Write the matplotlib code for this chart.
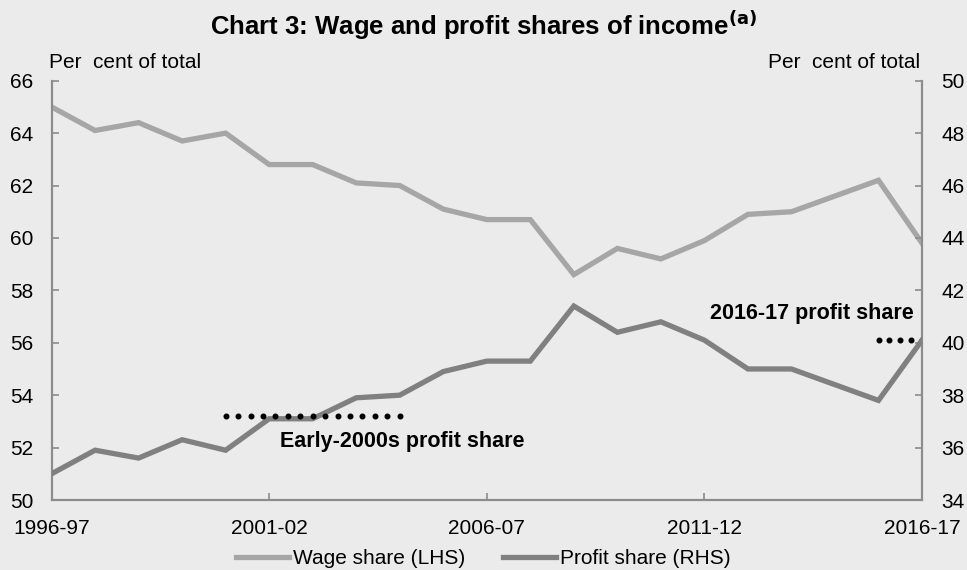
import matplotlib
matplotlib.use("Agg")
import matplotlib.pyplot as plt
from matplotlib.lines import Line2D
import numpy as np

years = ["1996-97", "1997-98", "1998-99", "1999-00", "2000-01", "2001-02", "2002-03",
         "2003-04", "2004-05", "2005-06", "2006-07", "2007-08", "2008-09", "2009-10",
         "2010-11", "2011-12", "2012-13", "2013-14", "2014-15", "2015-16", "2016-17"]
wage_share = [65.0, 64.1, 64.4, 63.7, 64.0, 62.8, 62.8, 62.1, 62.0, 61.1, 60.7,
              60.7, 58.6, 59.6, 59.2, 59.9, 60.9, 61.0, 61.6, 62.2, 59.8]
profit_share = [35.0, 35.9, 35.6, 36.3, 35.9, 37.1, 37.1, 37.9, 38.0, 38.9, 39.3,
                39.3, 41.4, 40.4, 40.8, 40.1, 39.0, 39.0, 38.4, 37.8, 40.1]
early_2000s_level = 37.2
early_2000s_span = [4, 8]
latest_level = 40.1
latest_span = [19, 20]
left_ticks = [50, 52, 54, 56, 58, 60, 62, 64, 66]
right_ticks = [34, 36, 38, 40, 42, 44, 46, 48, 50]
xtick_idx = [0, 5, 10, 15, 20]

plt.rcParams['font.family'] = ['Liberation Sans', 'DejaVu Sans']
bg = '#ebebeb'
wage_c = '#a6a6a6'
profit_c = '#808080'
spine_c = '#8c8c8c'
fs = 15

fig = plt.figure(figsize=(9.67, 5.70), dpi=100, facecolor=bg)
ax = fig.add_axes([0.0533, 0.1228, 0.9002, 0.7356])
ax.set_facecolor(bg)
ax2 = ax.twinx()

x = list(range(len(years)))
ax.plot(x, wage_share, color=wage_c, lw=3.8, solid_joinstyle='miter', zorder=3)
ax2.plot(x, profit_share, color=profit_c, lw=3.8, solid_joinstyle='miter', zorder=3)

# dotted reference lines
n1 = 15
xs1 = np.linspace(early_2000s_span[0], early_2000s_span[1], n1)
ax2.plot(xs1, [early_2000s_level] * n1, ls='none', marker='o', ms=3.3, color='black', zorder=4)
n2 = 5
xs2 = np.linspace(latest_span[0], latest_span[1], n2)
ax2.plot(xs2, [latest_level] * n2, ls='none', marker='o', ms=3.3, color='black', zorder=2)

ax.set_xlim(0, 20)
ax.set_ylim(50, 66)
ax2.set_ylim(34, 50)
ax.set_yticks(left_ticks)
ax2.set_yticks(right_ticks)
ax.set_xticks(xtick_idx)
ax.set_xticklabels([years[i] for i in xtick_idx])

for a in (ax, ax2):
    a.spines['top'].set_visible(False)
    for s in ('left', 'right', 'bottom'):
        a.spines[s].set_color(spine_c)
        a.spines[s].set_linewidth(1.5)
    a.tick_params(direction='in', length=5, width=1.2, color=spine_c, labelsize=fs)
ax.tick_params(axis='y', pad=13)
ax2.tick_params(axis='y', pad=14)
ax.tick_params(axis='x', pad=14)

fig.text(0.5, 0.939, 'Chart 3: Wage and profit shares of income$^{\\mathbf{(a)}}$',
         ha='center', va='baseline', fontsize=18.5, fontweight='bold')
fig.text(0.051, 0.89, 'Per  cent of total', ha='left', va='center', fontsize=fs)
fig.text(0.952, 0.89, 'Per  cent of total', ha='right', va='center', fontsize=fs)

ax2.text(8.05, 36.25, 'Early-2000s profit share', ha='center', va='center',
         fontsize=15.5, fontweight='bold')
ax2.text(19.8, 41.1, '2016-17 profit share', ha='right', va='center',
         fontsize=15.5, fontweight='bold')

handles = [Line2D([], [], color=wage_c, lw=3.8), Line2D([], [], color=profit_c, lw=3.8)]
fig.legend(handles, ['Wage share (LHS)', 'Profit share (RHS)'], loc='center',
           bbox_to_anchor=(0.5, 0.02), ncol=2, frameon=False, fontsize=fs,
           handlelength=2.55, handletextpad=0.2, columnspacing=1.8)

fig.savefig('out.png', dpi=100, facecolor=bg)
